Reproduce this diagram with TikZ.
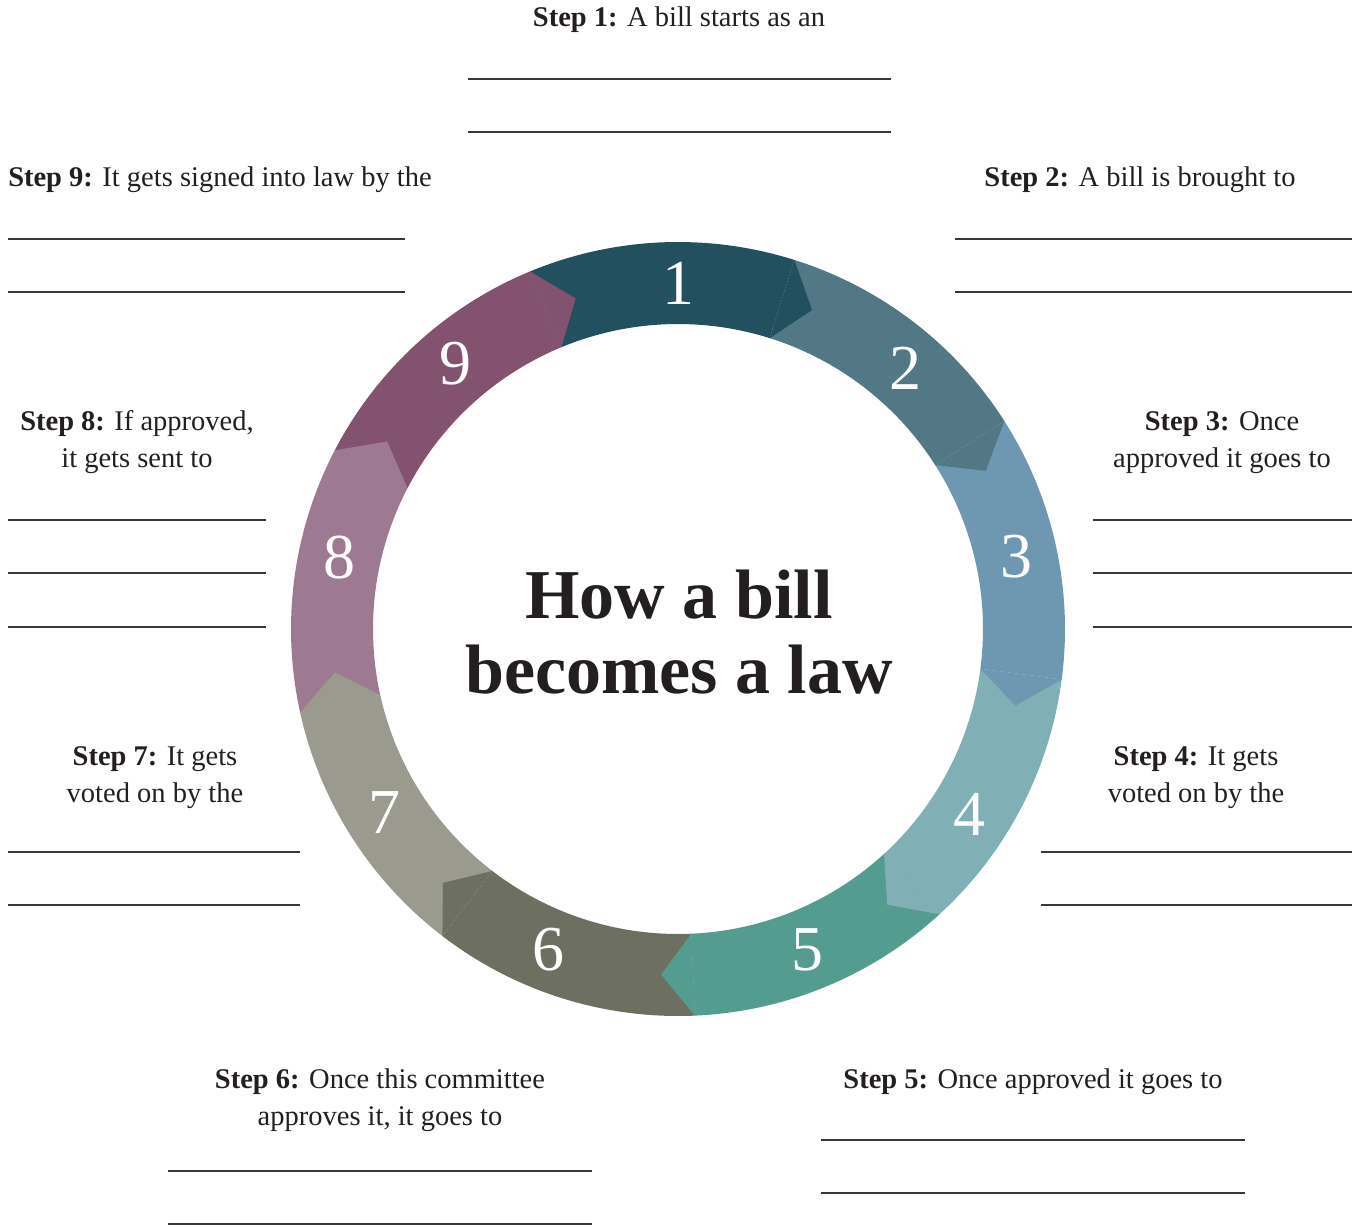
\documentclass[tikz,border=0pt]{standalone}
\usepackage{fontspec}
\setmainfont{Liberation Serif}
\definecolor{seg1}{HTML}{22505F}
\definecolor{seg2}{HTML}{527885}
\definecolor{seg3}{HTML}{6E98B2}
\definecolor{seg4}{HTML}{80B0B6}
\definecolor{seg5}{HTML}{559C90}
\definecolor{seg6}{HTML}{6D7060}
\definecolor{seg7}{HTML}{9A9A8F}
\definecolor{seg8}{HTML}{9E7A92}
\definecolor{seg9}{HTML}{83526F}
\definecolor{ink}{HTML}{231F20}
\begin{document}
\begin{tikzpicture}[x=1pt, y=1pt,
  stepnote/.style = {anchor=base, align=center, text=ink, inner sep=0pt, font=\fontsize{28.5}{37}\selectfont},
  blank/.style = {draw=black!78, line width=1.6pt},
  num/.style = {text=white, inner sep=0pt, font=\fontsize{64}{64}\selectfont}]
\useasboundingbox (0,0) rectangle (1359,-1226);

%ring
\begin{scope}[shift={(678,-629)}]
\foreach \i/\c in {1/seg1,2/seg2,3/seg3,4/seg4,5/seg5,6/seg6,7/seg7,8/seg8,9/seg9}{
  \pgfmathsetmacro\sa{112.5-40*(\i-1)}
  \pgfmathsetmacro\sb{\sa-40}
  \fill[\c] (\sa:387) arc[start angle=\sa, end angle=\sb, radius=387] -- (\sb:305) arc[start angle=\sb, end angle=\sa, radius=305] -- cycle;
}
%tips
\foreach \i/\c in {1/seg1,2/seg2,3/seg3,4/seg4,5/seg5,6/seg6,7/seg7,8/seg8,9/seg9}{
  \pgfmathsetmacro\sb{72.5-40*(\i-1)}
  \pgfmathsetmacro\tip{\sb-5.3}
  \fill[\c] (\sb:387) -- (\tip:346) -- (\sb:305) -- cycle;
}
%numbers
\foreach \n/\a in {1/90,2/49,3/12,4/-32.5,5/-68,6/-112,7/-148,8/168,9/130}
  \node[num] (n\n) at (\a:346) {\n};
\end{scope}

\node (title) [align=center, anchor=base, text=ink, inner sep=0pt, font=\bfseries\fontsize{70}{75}\selectfont] at (679,-693) {How a bill\\becomes a law};

%steps
\node[stepnote] (s1) at (679,-27) {\textbf{Step 1:} A bill starts as an};
\node[stepnote] (s2) at (1140,-186) {\textbf{Step 2:} A bill is brought to};
\node[stepnote] (s3) at (1222,-467) {\textbf{Step 3:} Once\\approved it goes to};
\node[stepnote] (s4) at (1196,-802) {\textbf{Step 4:} It gets\\voted on by the};
\node[stepnote] (s5) at (1033,-1088) {\textbf{Step 5:} Once approved it goes to};
\node[stepnote] (s6) at (380,-1125) {\textbf{Step 6:} Once this committee\\approves it, it goes to};
\node[stepnote] (s7) at (155,-802) {\textbf{Step 7:} It gets\\voted on by the};
\node[stepnote] (s8) at (137,-467) {\textbf{Step 8:} If approved,\\it gets sent to};
\node[stepnote] (s9) at (220,-186) {\textbf{Step 9:} It gets signed into law by the};

%blanks
\foreach \xa/\xb/\y in {468/891/79, 468/891/132, 955/1352/239, 955/1352/292,
  8/405/239, 8/405/292, 1093/1352/520, 1093/1352/573, 1093/1352/627,
  8/266/520, 8/266/573, 8/266/627, 1041/1352/852, 1041/1352/905,
  8/300/852, 8/300/905, 168/592/1171, 168/592/1224, 821/1245/1140, 821/1245/1193}
  \draw[blank] (\xa,-\y) -- (\xb,-\y);
\end{tikzpicture}
\end{document}
